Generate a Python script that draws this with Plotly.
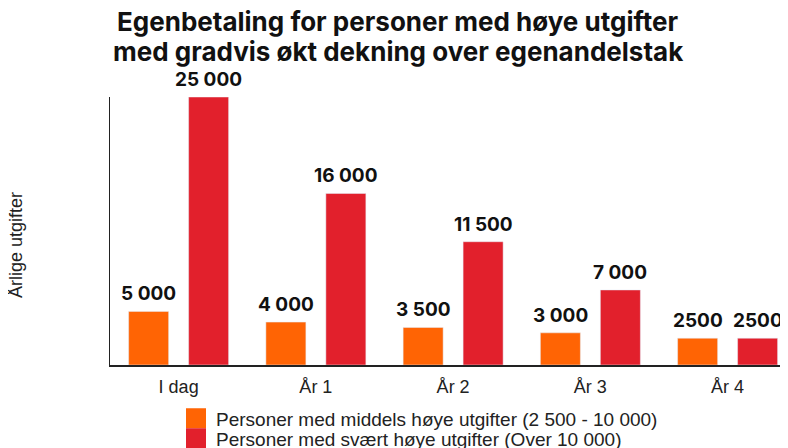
import plotly.graph_objects as go

categories = ["I dag", "År 1", "År 2", "År 3", "År 4"]
middels = [5000, 4000, 3500, 3000, 2500]
svaert = [25000, 16000, 11500, 7000, 2500]
middels_labels = ["5 000", "4 000", "3 500", "3 000", "2500"]
svaert_labels = ["25 000", "16 000", "11 500", "7 000", "2500"]
series_names = ["Personer med middels høye utgifter (2 500 - 10 000)",
                "Personer med svært høye utgifter (Over 10 000)"]
title_lines = ["Egenbetaling for personer med høye utgifter",
               "med gradvis økt dekning over egenandelstak"]
y_title = "Årlige utgifter"

ORANGE = "#FF6404"
RED = "#E2202C"
BOLD = "Inter, Roboto, sans-serif"
REG = "Liberation Sans, Arial, sans-serif"
label_font = dict(family=BOLD, size=19, color="#111111", weight="bold")

# page has an 8px body margin; figure sized to fit the 788x448 window
W, H = 780, 440
L, T, B = 102, 89, 83
PH = H - T - B
PW = W - L
BOTTOM = H - B

BARGAP = 0.126
GROUPGAP = 0.333
slot = (1 - BARGAP) / 2
offsets = [-slot / 2, slot / 2]

fig = go.Figure()
legends = ["legend", "legend2"]
annotations = []
for k, (vals, labels, name, col) in enumerate([(middels, middels_labels, series_names[0], ORANGE),
                                               (svaert, svaert_labels, series_names[1], RED)]):
    fig.add_trace(go.Bar(x=categories, y=vals, name=name, marker_color=col,
                         showlegend=False, hoverinfo="x+y"))
    fig.add_trace(go.Scatter(x=[None], y=[None], mode="markers", name=name, legend=legends[k],
                             marker=dict(symbol="square", size=16, color=col,
                                         line=dict(width=4, color=col))))
    for i, (v, t) in enumerate(zip(vals, labels)):
        annotations.append(dict(text=t, xref="x", yref="y", x=i + offsets[k], y=v,
                                xanchor="center", yanchor="bottom", yshift=4,
                                showarrow=False, font=label_font))

for i, line in enumerate(title_lines):
    annotations.append(dict(text=line, xref="paper", yref="paper",
                            x=(390 - L) / PW, y=(BOTTOM - (14 + 30 * i)) / PH,
                            showarrow=False, xanchor="center", yanchor="middle",
                            font=dict(family=BOLD, size=26, color="#111111", weight="bold")))
annotations.append(dict(text=y_title, xref="paper", yref="paper",
                        x=(8 - L) / PW, y=(BOTTOM - 237) / PH, textangle=-90,
                        showarrow=False, xanchor="center", yanchor="middle",
                        font=dict(family=REG, size=18, color="#222222")))

leg_font = dict(family=REG, size=19, color="#222222")
fig.update_layout(
    width=W, height=H,
    margin=dict(l=L, r=0, t=T, b=B, autoexpand=False),
    paper_bgcolor="white", plot_bgcolor="white",
    barmode="group", bargap=BARGAP, bargroupgap=GROUPGAP,
    annotations=annotations,
    xaxis=dict(range=[-0.5, 4.44], showline=True, linecolor="#222222", linewidth=1.5,
               ticks="", ticklabelstandoff=5,
               tickfont=dict(family=REG, size=18, color="#222222"),
               showgrid=False, automargin=False),
    yaxis=dict(range=[0, 25000], showline=True, linecolor="#222222", linewidth=1,
               showticklabels=False, ticks="", showgrid=False, zeroline=False,
               automargin=False),
    showlegend=True,
    legend=dict(x=(168 - L) / PW, xanchor="left", y=-(34.5) / PH, yanchor="top",
                orientation="v", font=leg_font, bgcolor="rgba(0,0,0,0)"),
    legend2=dict(x=(168 - L) / PW, xanchor="left", y=-(54.5) / PH, yanchor="top",
                 orientation="v", font=leg_font, bgcolor="rgba(0,0,0,0)"),
)

fig.write_html("out.html")
